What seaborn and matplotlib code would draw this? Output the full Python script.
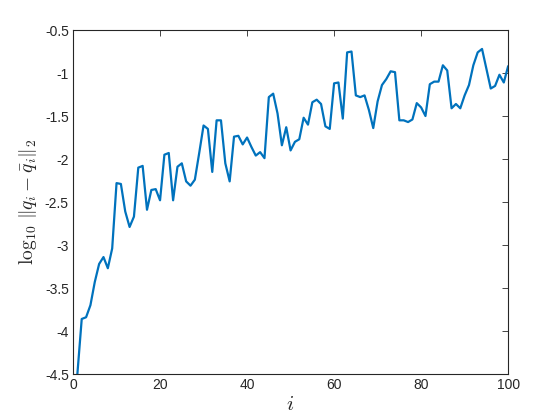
import numpy as np
import pandas as pd
import matplotlib
matplotlib.use('Agg')
import matplotlib.pyplot as plt
import seaborn as sns

# values, i = 1..100
idx = list(range(1, 101))
log_err = [
    -4.50, -3.86, -3.84, -3.70, -3.43, -3.22, -3.14, -3.27, -3.04, -2.28,
    -2.29, -2.61, -2.79, -2.67, -2.10, -2.08, -2.59, -2.36, -2.35, -2.48,
    -1.95, -1.93, -2.48, -2.09, -2.05, -2.26, -2.31, -2.24, -1.93, -1.61,
    -1.65, -2.15, -1.55, -1.55, -2.05, -2.26, -1.74, -1.73, -1.83, -1.75,
    -1.86, -1.96, -1.92, -1.99, -1.28, -1.24, -1.47, -1.84, -1.63, -1.90,
    -1.80, -1.77, -1.52, -1.60, -1.34, -1.31, -1.36, -1.62, -1.65, -1.12,
    -1.11, -1.53, -0.76, -0.75, -1.26, -1.28, -1.26, -1.43, -1.64, -1.33,
    -1.14, -1.07, -0.98, -0.99, -1.55, -1.55, -1.57, -1.54, -1.35, -1.40,
    -1.50, -1.13, -1.10, -1.10, -0.91, -0.97, -1.41, -1.36, -1.41, -1.26,
    -1.14, -0.91, -0.76, -0.72, -0.95, -1.18, -1.15, -1.02, -1.11, -0.92,
]
x_ticks = [0, 20, 40, 60, 80, 100]
y_ticks = [-4.5, -4, -3.5, -3, -2.5, -2, -1.5, -1, -0.5]
y_ticklabels = ['-4.5', '-4', '-3.5', '-3', '-2.5', '-2', '-1.5', '-1', '-0.5']

sns.set_style('white')
plt.rcParams['font.family'] = ['Liberation Sans', 'DejaVu Sans']
plt.rcParams['mathtext.fontset'] = 'cm'
plt.rcParams['axes.unicode_minus'] = False

df = pd.DataFrame({'i': idx, 'err': log_err})

fig = plt.figure(figsize=(5.6, 4.2), dpi=100)
ax = fig.add_axes([0.1304, 0.1095, 0.777, 0.819])
sns.lineplot(data=df, x='i', y='err', color='#0072BD', linewidth=1.6, ax=ax)

ax.set_xlim(0, 100)
ax.set_ylim(-4.5, -0.5)
ax.set_xticks(x_ticks)
ax.set_xticklabels([str(t) for t in x_ticks])
ax.set_yticks(y_ticks)
ax.set_yticklabels(y_ticklabels)
ax.tick_params(direction='in', top=True, right=True, length=4, width=0.6,
               labelsize=10, colors='#262626', pad=3)
for s in ax.spines.values():
    s.set_color('#262626')
    s.set_linewidth(0.8)
    s.set_visible(True)

ax.set_xlabel(r'$i$', fontsize=15, color='#262626', labelpad=2)
ax.set_ylabel(r'$\log_{10}\,\Vert q_i - \bar{q}_i\Vert_2$', fontsize=14,
              color='#262626', labelpad=4)

fig.savefig('out.png', dpi=100)
